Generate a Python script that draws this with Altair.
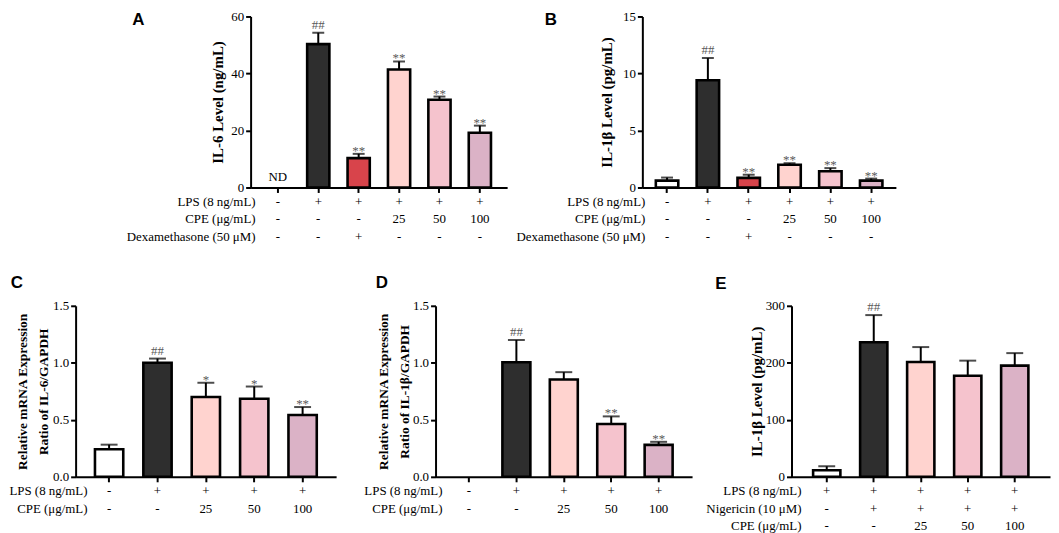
import altair as alt
import pandas as pd

SERIF = "Liberation Serif"
SANS = "Liberation Sans"

WHITE, DARK, RED, LPINK, PINK, MAUVE = "#ffffff", "#2e2e2e", "#d8444b", "#ffd3cf", "#f5c3cd", "#dbb2c6"

# ---------------- Panel A ----------------
a_fill = [WHITE, DARK, RED, LPINK, PINK, MAUVE]
a_vals = [None, 50.3, 10.3, 41.4, 30.8, 19.2]
a_err = [None, 4.0, 1.5, 2.8, 1.1, 2.5]
a_sig = ["ND", "##", "**", "**", "**", "**"]
a_row_names = ["LPS (8 ng/mL)", "CPE (μg/mL)", "Dexamethasone (50 μM)"]
a_rows = [["-", "+", "+", "+", "+", "+"],
          ["-", "-", "-", "25", "50", "100"],
          ["-", "-", "+", "-", "-", "-"]]
a_ticks = [0, 20, 40, 60]

# ---------------- Panel B ----------------
b_fill = [WHITE, DARK, RED, LPINK, PINK, MAUVE]
b_vals = [0.6, 9.4, 0.84, 2.0, 1.42, 0.6]
b_err = [0.27, 1.95, 0.28, 0.13, 0.28, 0.18]
b_sig = ["", "##", "**", "**", "**", "**"]
b_row_names = ["LPS (8 ng/mL)", "CPE (μg/mL)", "Dexamethasone (50 μM)"]
b_rows = [["-", "+", "+", "+", "+", "+"],
          ["-", "-", "-", "25", "50", "100"],
          ["-", "-", "+", "-", "-", "-"]]
b_ticks = [0, 5, 10, 15]

# ---------------- Panel C ----------------
c_fill = [WHITE, DARK, LPINK, PINK, MAUVE]
c_vals = [0.242, 1.0, 0.70, 0.685, 0.542]
c_err = [0.04, 0.037, 0.125, 0.107, 0.07]
c_sig = ["", "##", "*", "*", "**"]
c_row_names = ["LPS (8 ng/mL)", "CPE (μg/mL)"]
c_rows = [["-", "+", "+", "+", "+"],
          ["-", "-", "25", "50", "100"]]
c_ticks = [0, 0.5, 1.0, 1.5]

# ---------------- Panel D ----------------
d_fill = [WHITE, DARK, LPINK, PINK, MAUVE]
d_vals = [None, 1.005, 0.853, 0.463, 0.28]
d_err = [None, 0.195, 0.065, 0.067, 0.027]
d_sig = ["", "##", "", "**", "**"]
d_row_names = ["LPS (8 ng/mL)", "CPE (μg/mL)"]
d_rows = [["-", "+", "+", "+", "+"],
          ["-", "-", "25", "50", "100"]]
d_ticks = [0, 0.5, 1.0, 1.5]

# ---------------- Panel E ----------------
e_fill = [WHITE, DARK, LPINK, PINK, MAUVE]
e_vals = [11.6, 236, 201.5, 177.2, 195]
e_err = [6.9, 47.7, 26.1, 26.6, 22]
e_sig = ["", "##", "", "", ""]
e_row_names = ["LPS (8 ng/mL)", "Nigericin (10 μM)", "CPE (μg/mL)"]
e_rows = [["+", "+", "+", "+", "+"],
          ["-", "+", "+", "+", "+"],
          ["-", "-", "25", "50", "100"]]
e_ticks = [0, 100, 200, 300]

H = 172


def panel(letter, fills, vals, errs, sigs, row_names, rows, ytitle, ticks, fmt,
          width, pi, po, cap, title_size, title_pad, title_lh, name_dx, lx, ly):
    n = len(vals)
    g = list(range(1, n + 1))
    tops = [v + e if (v is not None and e is not None) else None for v, e in zip(vals, errs)]
    sy = [t if t is not None else 0 for t in tops]
    df = pd.DataFrame({"g": g, "v": vals, "e": errs, "top": tops, "sy": sy,
                       "sig": sigs, "fill": fills})

    def X():
        return alt.X("g:O", scale=alt.Scale(paddingInner=pi, paddingOuter=po),
                     axis=alt.Axis(labels=False, title="", tickSize=5))

    def Y(field):
        return alt.Y(field, scale=alt.Scale(domain=[ticks[0], ticks[-1]], nice=False),
                     axis=alt.Axis(values=ticks, format=fmt, title=ytitle,
                                   titleFontSize=title_size, titlePadding=title_pad,
                                   titleLineHeight=title_lh))

    base = alt.Chart(df)
    bars = base.mark_bar(stroke="black", strokeWidth=2.6).encode(
        x=X(), y=Y("v:Q"), fill=alt.Fill("fill:N", scale=None))
    rule = base.mark_rule(color="black", strokeWidth=2).encode(
        x=X(), y=Y("v:Q"), y2="top:Q")
    capm = base.mark_tick(color="black", thickness=2, size=cap).encode(
        x=X(), y=Y("top:Q"))
    stars = base.transform_filter("indexof(datum.sig, '*') >= 0").mark_text(
        font=SERIF, fontSize=13, color="#5a5a5a", baseline="alphabetic", dy=1).encode(
        x=X(), y=Y("sy:Q"), text="sig:N")
    hashes = base.transform_filter("datum.sig == '##'").mark_text(
        font=SERIF, fontSize=13, color="#5a5a5a", baseline="alphabetic", dy=-4).encode(
        x=X(), y=Y("sy:Q"), text="sig:N")
    nd = base.transform_filter("datum.sig == 'ND'").mark_text(
        font=SERIF, fontSize=13, color="black", baseline="alphabetic", dy=-7).encode(
        x=X(), y=Y("sy:Q"), text="sig:N")

    layers = [bars, rule, capm, stars, hashes, nd]

    for i, (name, row) in enumerate(zip(row_names, rows)):
        ypix = H + 14.5 + 17.5 * i
        rdf = pd.DataFrame({"g": g, "s": row})
        layers.append(alt.Chart(rdf).mark_text(
            font=SERIF, fontSize=13, color="black", baseline="middle").encode(
            x=X(), y=alt.value(ypix), text="s:N"))
        layers.append(alt.Chart(pd.DataFrame({"t": [name]})).mark_text(
            font=SERIF, fontSize=13, color="black", align="right", baseline="middle").encode(
            x=alt.value(name_dx), y=alt.value(ypix), text="t:N"))

    layers.append(alt.Chart(pd.DataFrame({"t": [letter]})).mark_text(
        font=SANS, fontSize=17, fontWeight="bold", color="black",
        align="center", baseline="middle").encode(
        x=alt.value(lx), y=alt.value(ly), text="t:N"))

    return alt.layer(*layers).properties(width=width, height=H)


A = panel("A", a_fill, a_vals, a_err, a_sig, a_row_names, a_rows,
          "IL-6 Level (ng/mL)", a_ticks, "d",
          258, 0.45, 0.40, 12, 15, 5, 18, 5, -113, 4)
B = panel("B", b_fill, b_vals, b_err, b_sig, b_row_names, b_rows,
          "IL-1β Level (pg/mL)", b_ticks, "d",
          255, 0.45, 0.33, 12, 15, 8, 18, 3, -92, 4)
C = panel("C", c_fill, c_vals, c_err, c_sig, c_row_names, c_rows,
          ["Relative mRNA Expression", "Ratio of IL-6/GAPDH"], c_ticks, ".1f",
          262, 0.415, 0.40, 17, 13.5, 2, 21, 12, -59, -23)
D = panel("D", d_fill, d_vals, d_err, d_sig, d_row_names, d_rows,
          ["Relative mRNA Expression", "Ratio of IL-1β/GAPDH"], d_ticks, ".1f",
          258, 0.41, 0.41, 17, 13.5, 1, 21, 7, -54, -23)
E = panel("E", e_fill, e_vals, e_err, e_sig, e_row_names, e_rows,
          "IL-1β Level (pg/mL)", e_ticks, "d",
          260, 0.42, 0.46, 17, 15, 1, 18, 10, -71, -22)

spacer = alt.Chart(pd.DataFrame({"t": [""]})).mark_text(opacity=0).encode(
    x=alt.value(0), y=alt.value(0), text="t:N").properties(width=40, height=H)

row1 = alt.hconcat(spacer, A, B, spacing=136, bounds="flush")
row2 = alt.hconcat(C, D, E, spacing=100, bounds="flush")

chart = alt.vconcat(row1, row2, spacing=29, padding=0, background="white").configure_view(
    stroke="transparent"
).configure_axis(
    labelFont=SERIF, labelFontSize=13, labelColor="black",
    titleFont=SERIF, titleFontWeight="bold", titleColor="black",
    domainColor="black", domainWidth=2, tickColor="black", tickWidth=2,
    tickSize=5, labelPadding=2, grid=False
)

chart.save("out.html", embed_options={"renderer": "svg", "actions": False})
